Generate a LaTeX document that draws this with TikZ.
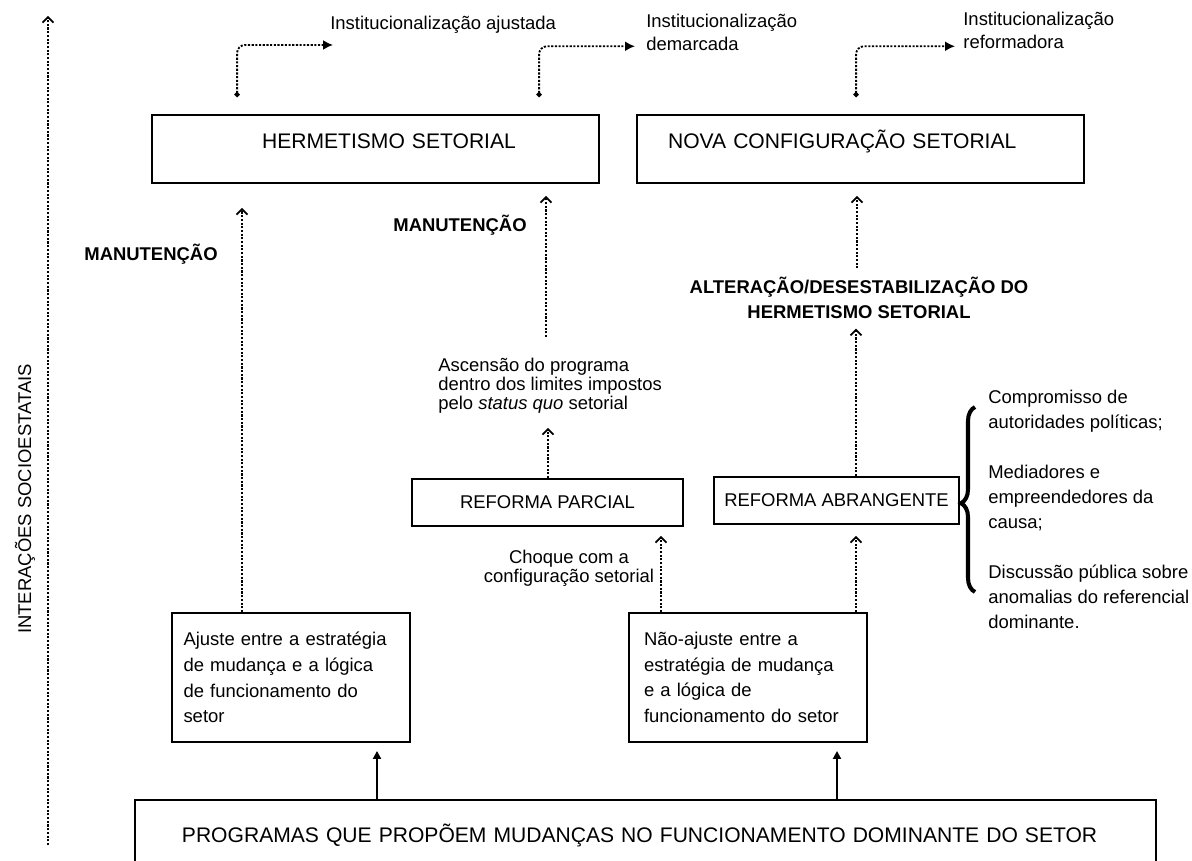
\documentclass[tikz,border=0pt]{standalone}
\usepackage{fontspec}
\setmainfont{Liberation Sans}
\usetikzlibrary{arrows.meta,calc,decorations.pathreplacing}

\begin{document}
\begin{tikzpicture}[x=0.02cm,y=-0.02cm,
        box/.style={draw,line width=1.1pt,inner sep=0pt},
        bigbox/.style={box,font=\fontsize{12}{14}\selectfont,minimum width=8.94cm,minimum height=1.36cm,text height=0.3cm,text depth=0.3cm,align=left},
        smallbox/.style={box,font=\fontsize{10.5}{12}\selectfont,minimum height=0.94cm},
        stratbox/.style={box,font=\fontsize{10.5}{14.6}\selectfont,minimum height=2.58cm,align=left},
        txt/.style={font=\fontsize{10.5}{10.8}\selectfont,inner sep=0pt},
        bold/.style={font=\fontsize{10.5}{14.2}\selectfont\bfseries,inner sep=0pt,align=center},
        dots/.style={line width=1.05pt,dash pattern=on 1.2pt off 0.9pt},
        rise/.style={dots,arrows={-Straight Barb[length=0.11cm,width=0.22cm,line width=1pt]}},
        inst/.style={dots,rounded corners=0.16cm,arrows={Circle[length=0.1cm]-Latex[length=0.2cm,width=0.2cm]}},
        push/.style={line width=1.1pt,arrows={-Triangle[length=0.16cm,width=0.16cm]}}]
    \useasboundingbox (0,0) rectangle (1192,861);

    \node[font=\fontsize{10.5}{12}\selectfont,inner sep=0pt,rotate=90] (eixo) at (25,499) {INTERAÇÕES SOCIOESTATAIS};
    \draw[rise] (48,845) -- (48,16);

    \node[bigbox,text width=4.54cm,inner xsep=2.2cm] (herm) at (375.5,149) {\mbox{HERMETISMO SETORIAL}};
    \node[bigbox,text width=7.7cm,inner xsep=0.62cm] (nova) at (860.5,149) {NOVA CONFIGURAÇÃO SETORIAL};

    \node[txt,anchor=north west] (ajust) at (330,16) {Institucionalização ajustada};
    \node[txt,anchor=north west,align=left,font=\fontsize{10.5}{13.1}\selectfont] (demarc) at (646,14) {Institucionalização\\demarcada};
    \node[txt,anchor=north west,align=left,font=\fontsize{10.5}{13.1}\selectfont] (reform) at (963,12) {Institucionalização\\reformadora};
    \draw[inst] ($(herm.north west)+(86,-17)$) |- ($(ajust.south west)+(3,11)$);
    \draw[inst] ($(herm.north west)+(388,-17)$) |- ($(demarc.south west)+(-11,-5)$);
    \draw[inst] ($(nova.north west)+(220,-17)$) |- ($(reform.south west)+(-8,-3)$);

    \node[bold] (manut1) at (151,254) {MANUTENÇÃO};
    \node[bold] (manut2) at (460,225) {MANUTENÇÃO};
    \node[bold] (alt) at (859,297.5) {ALTERAÇÃO/DESESTABILIZAÇÃO DO\\HERMETISMO SETORIAL};

    \node[txt,anchor=north west,align=left] (asc) at (438,358) {Ascensão do programa\\dentro dos limites impostos\\pelo \textit{status quo} setorial};
    \node[smallbox,minimum width=5.42cm] (parcial) at (547.5,502.5) {REFORMA PARCIAL};
    \node[smallbox,minimum width=4.9cm] (abr) at (836.5,500.5) {REFORMA ABRANGENTE};
    \node[txt,anchor=north,align=center] (choque) at (569,550) {Choque com a\\configuração setorial};

    \node[txt,anchor=north west,align=left,font=\fontsize{10.5}{14.2}\selectfont] (lista) at (988,390) {Compromisso de\\autoridades políticas;\\[0.5cm]Mediadores e\\empreendedores da\\causa;\\[0.5cm]Discussão pública sobre\\anomalias do referencial\\dominante.};
    \draw[line width=2.3pt,decorate,decoration={brace,amplitude=0.28cm,aspect=0.48}] ($(lista.north west)+(-13,202)$) -- ($(lista.north west)+(-13,17)$);

    \node[stratbox,text width=4.3cm,inner xsep=0.23cm] (ajuste) at (291,677.5) {Ajuste entre a estratégia\\de mudança e a lógica\\de funcionamento do\\setor};
    \node[stratbox,text width=4.16cm,inner xsep=0.3cm] (naoaj) at (748,677.5) {Não-ajuste entre a\\estratégia de mudança\\e a lógica de\\funcionamento do setor};

    \node[box,font=\fontsize{12}{14}\selectfont,anchor=north west,text width=18.54cm,inner xsep=0.94cm,minimum height=1.44cm,align=left] (prog) at (134,799) {PROGRAMAS QUE PROPÕEM MUDANÇAS NO FUNCIONAMENTO DOMINANTE DO SETOR};

    \draw[rise] (ajuste.north -| 242,0) -- ($(herm.south -| 242,0)+(0,24)$);
    \draw[rise] ($(asc.north -| 546,0)+(0,-21)$) -- ($(herm.south -| 546,0)+(0,12)$);
    \draw[rise] (parcial.north -| 548,0) -- ($(asc.south -| 548,0)+(0,14)$);
    \draw[rise] (naoaj.north -| 661,0) -- ($(parcial.south -| 661,0)+(0,9)$);
    \draw[rise] (naoaj.north -| 856,0) -- ($(abr.south -| 856,0)+(0,11)$);
    \draw[rise] (abr.north -| 856,0) -- ($(alt.south -| 856,0)+(0,10)$);
    \draw[rise] ($(alt.north -| 857,0)+(0,-8)$) -- ($(nova.south -| 857,0)+(0,12)$);
    \draw[push] (prog.north -| 377,0) -- ($(ajuste.south -| 377,0)+(0,8)$);
    \draw[push] (prog.north -| 837,0) -- ($(naoaj.south -| 837,0)+(0,8)$);
\end{tikzpicture}
\end{document}
